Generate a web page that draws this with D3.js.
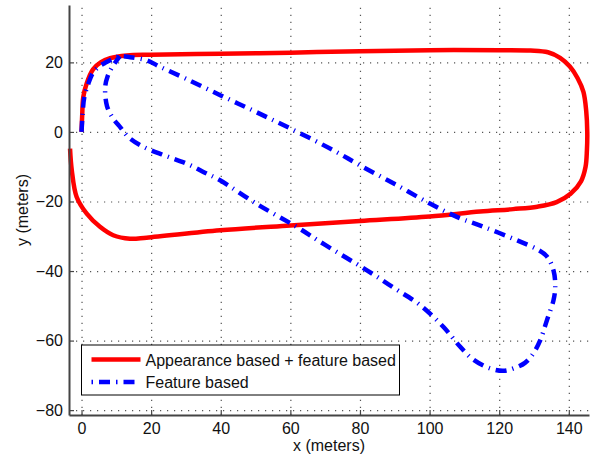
<!DOCTYPE html>
<html>
<head>
<meta charset="utf-8">
<script src="https://cdn.jsdelivr.net/npm/d3@7"></script>
<style>
  body { margin: 0; background: #fff; }
  text { font-family: "Liberation Sans", Arial, sans-serif; fill: #111; }
  .grid line { stroke: #555; stroke-width: 1.2; stroke-dasharray: 1.2,5.8; }
  .grid path { display: none; }
  .axis path, .axis line { stroke: #444; }
  .axis path { stroke-width: 2; }
  .axis line { stroke-width: 1.2; }
</style>
</head>
<body>
<div id="chart"></div>
<script>
// trajectory: appearance based + feature based (x, y in meters)
var appearX = [0, 0.2, 0.5, 1.5, 3.3, 5.5, 8.2, 13, 20, 40, 60, 80, 100, 120, 129, 134, 137.5, 140.3, 142.5, 144.2, 145, 145.3, 145.2, 144.8, 143.5, 140.5, 136.5, 131, 124, 114.5, 100, 80, 60, 39.8, 18.7, 13.9, 9.1, 5.3, 1.5, -1.4, -2.8, -3.3];
var appearY = [0, 5, 10, 14, 18, 20, 21.2, 22, 22.2, 22.5, 22.8, 23.2, 23.5, 23.5, 23.4, 22.9, 21.3, 18.8, 15.5, 11.5, 6, 0, -5.3, -10.1, -14.2, -17.8, -20.2, -21.5, -22.2, -22.9, -24.3, -25.6, -26.9, -28.3, -30.4, -30.7, -29.7, -27.3, -23.5, -18.7, -11, -4.8];

// trajectory: feature based
var featureX = [0, 0.3, 0.8, 2, 3.3, 5, 7.2, 9, 11, 14, 18.7, 22.6, 30, 40, 50, 60, 72.4, 80, 90, 100.1, 108, 115.5, 125, 131, 133.7, 135.6, 136.1, 135.6, 133.7, 131.8, 129.8, 127.4, 124.1, 121.2, 117.4, 112.6, 108.8, 104, 97.3, 90, 82, 70, 61.8, 50, 39.8, 35, 30.2, 24, 17.8, 13.5, 11.1, 9, 7.3, 6.8, 7.5, 8.7, 11];
var featureY = [0, 5, 10, 14, 17, 18.8, 20.1, 21, 21.8, 21.5, 20.6, 18.7, 15.3, 10.5, 5.8, 1, -5.3, -9.6, -15, -20.6, -24.5, -27.3, -31.1, -33.8, -35.8, -39.8, -44.6, -48.4, -54.2, -59.9, -63.7, -66.4, -68, -68.7, -68, -65.5, -61.8, -56.1, -49.8, -45, -39.8, -32.5, -27.3, -20.5, -13.9, -11.5, -9.1, -6.8, -4.3, -1.5, 1.4, 4, 7.5, 12.9, 16, 18.5, 21.8];

var xTicks = [0, 20, 40, 60, 80, 100, 120, 140];
var yTicks = [-80, -60, -40, -20, 0, 20];
var seriesNames = ["Appearance based + feature based", "Feature based"];

var svgWidth = 594;
var svgHeight = 461;

var margin = { top: 5, right: 5, bottom: 46, left: 69 };
var width = svgWidth - margin.left - margin.right;
var height = svgHeight - margin.top - margin.bottom;

var svg = d3.select("#chart")
  .append("svg")
  .attr("width", svgWidth)
  .attr("height", svgHeight);

var chartGroup = svg.append("g")
  .attr("transform", `translate(${margin.left}, ${margin.top})`);

var xScale = d3.scaleLinear()
  .domain([-3.6, 145.8])
  .range([0, width]);

var yScale = d3.scaleLinear()
  .domain([-81.4, 36.5])
  .range([height, 0]);

// dotted grid
chartGroup.append("g")
  .attr("class", "grid")
  .attr("transform", `translate(0, ${height})`)
  .call(d3.axisBottom(xScale).tickValues(xTicks).tickSize(-height).tickFormat(""));

chartGroup.append("g")
  .attr("class", "grid")
  .call(d3.axisLeft(yScale).tickValues(yTicks).tickSize(-width).tickFormat(""));

// trajectories
var line = d3.line()
  .x(d => xScale(d[0]))
  .y(d => yScale(d[1]))
  .curve(d3.curveCatmullRom.alpha(0.5));

var appearData = appearX.map((x, i) => [x, appearY[i]]);
var featureData = featureX.map((x, i) => [x, featureY[i]]);

chartGroup.append("path")
  .datum(appearData)
  .attr("d", line)
  .attr("fill", "none")
  .attr("stroke", "#ff0000")
  .attr("stroke-width", 4.5)
  .attr("stroke-linejoin", "round");

chartGroup.append("path")
  .datum(featureData)
  .attr("d", line)
  .attr("fill", "none")
  .attr("stroke", "#0000ff")
  .attr("stroke-width", 4.5)
  .attr("stroke-dasharray", "11,6,1.2,6");

// axes
var bottomAxis = d3.axisBottom(xScale).tickValues(xTicks).tickSizeInner(-5).tickSizeOuter(0).tickPadding(8);
var leftAxis = d3.axisLeft(yScale).tickValues(yTicks).tickSizeInner(-5).tickSizeOuter(0).tickPadding(6);

chartGroup.append("g")
  .attr("class", "axis")
  .attr("transform", `translate(0, ${height})`)
  .call(bottomAxis);

chartGroup.append("g")
  .attr("class", "axis")
  .call(leftAxis);

chartGroup.selectAll(".axis text")
  .style("font-family", "'Liberation Sans', Arial, sans-serif")
  .attr("font-size", 16)
  .attr("fill", "#111");

// axis labels
chartGroup.append("text")
  .attr("x", width / 2)
  .attr("y", height + 36)
  .attr("text-anchor", "middle")
  .attr("font-size", 16)
  .text("x (meters)");

chartGroup.append("text")
  .attr("transform", "rotate(-90)")
  .attr("x", -height / 2)
  .attr("y", -41)
  .attr("text-anchor", "middle")
  .attr("font-size", 16)
  .text("y (meters)");

// legend
var legend = chartGroup.append("g")
  .attr("transform", "translate(12.5, 340)");

legend.append("rect")
  .attr("width", 318)
  .attr("height", 50)
  .attr("fill", "#fff")
  .attr("stroke", "#000")
  .attr("stroke-width", 1);

var legendStyles = [
  { color: "#ff0000", dash: null },
  { color: "#0000ff", dash: "1.5,6,11,6" }
];

seriesNames.forEach(function(name, i) {
  var ly = 14.5 + i * 22.5;
  legend.append("line")
    .attr("x1", 10)
    .attr("x2", 59)
    .attr("y1", ly)
    .attr("y2", ly)
    .attr("stroke", legendStyles[i].color)
    .attr("stroke-width", 4.5)
    .attr("stroke-dasharray", legendStyles[i].dash);
  legend.append("text")
    .attr("x", 64)
    .attr("y", ly + 6)
    .attr("font-size", 16)
    .text(name);
});
</script>
</body>
</html>
